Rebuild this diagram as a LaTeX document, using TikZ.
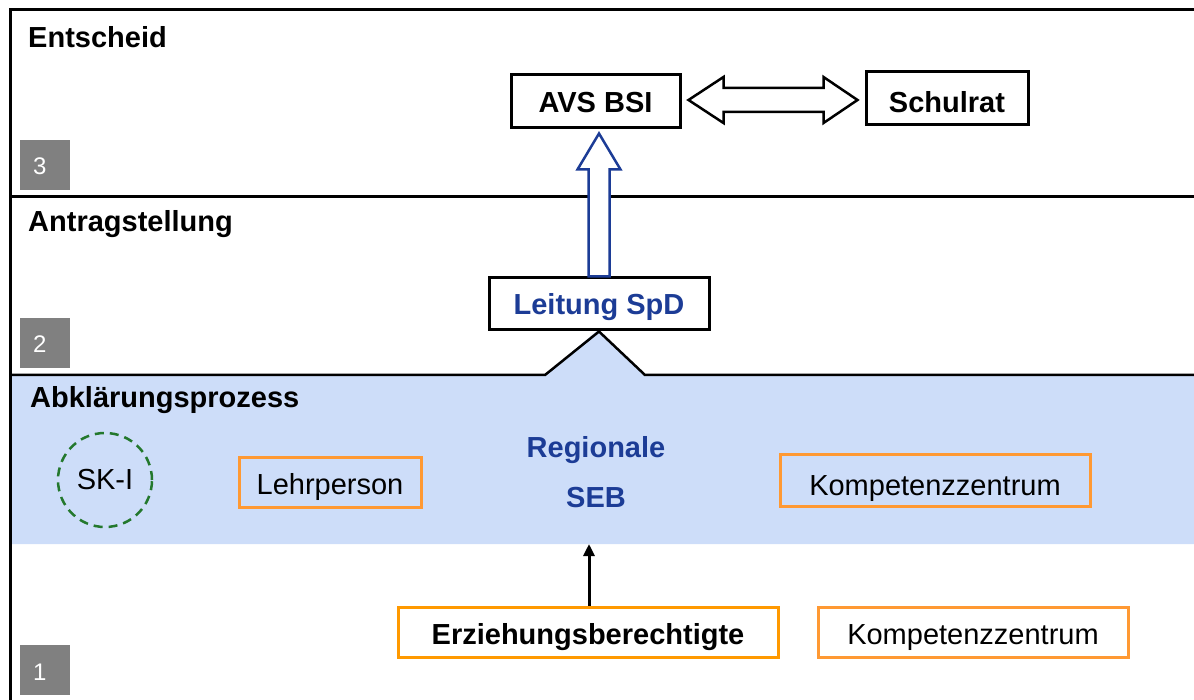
\documentclass[tikz,border=0pt]{standalone}
\usepackage{fontspec}
\setmainfont{Liberation Sans}
\usetikzlibrary{calc,arrows.meta}
\definecolor{orangeA}{RGB}{255,153,51}
\definecolor{orangeB}{RGB}{255,153,0}
\definecolor{bluefill}{RGB}{205,221,249}
\definecolor{bluetext}{RGB}{28,60,150}
\definecolor{darkgreen}{RGB}{35,120,45}
\definecolor{graybox}{RGB}{128,128,128}
\begin{document}
\begin{tikzpicture}[x=1pt,y=-1pt,
  lbl/.style={font=\fontsize{29}{34}\selectfont\bfseries, anchor=west, inner sep=0pt},
  bbox/.style={draw=black, line width=3pt, fill=white, inner sep=0pt},
  obox/.style={draw=orangeA, line width=3pt, inner sep=0pt, font=\fontsize{29}{34}\selectfont},
  numbox/.style={fill=graybox, text=white, minimum size=50pt, inner sep=0pt, text height=20pt, text depth=0pt, text width=24pt, font=\fontsize{24}{28}\selectfont},
  hollow/.style={draw=black, line width=2.5pt, fill=white, line join=miter},
  bluearrow/.style={draw=bluetext, line width=2.5pt, fill=white, line join=miter},
  frame/.style={draw=black, line width=3pt}
]
\useasboundingbox (0,0) rectangle (1194,700);
% blue area
\fill[bluefill] (10,375) -- (545,375) -- (598,330) -- (645,375) -- (1194,375) -- (1194,544) -- (10,544) -- cycle;
% frame
\draw[frame] (10,701) -- (10,10) -- (1195,10);
\draw[frame] (10,197) -- (1195,197);
% section labels
\node[lbl] (l3) at (28,37) {Entscheid};
\node[lbl] (l2) at (28,224) {Antragstellung};
\node[lbl] (l1) at (30,400) {Abklärungsprozess};
\node[numbox] (n3) at (45,165) {3};
\node[numbox] (n2) at (45,343) {2};
\node[numbox] (n1) at (45,670) {1};
% top boxes
\node[bbox, minimum width=169pt, minimum height=53pt, text height=23pt, text depth=0pt, font=\fontsize{29}{34}\selectfont\bfseries] (avs) at (595.5,101.5) {AVS BSI};
\node[bbox, minimum width=162pt, minimum height=53pt, text height=29pt, text depth=0pt, font=\fontsize{29}{34}\selectfont\bfseries] (schul) at (947,98.5) {Schulrat};
\node[bbox, minimum width=220pt, minimum height=52pt, text height=22pt, text depth=0pt, text=bluetext, font=\fontsize{29}{34}\selectfont\bfseries] (leit) at (599,304) {Leitung SpD};
% peak line
\draw[frame, line width=2.5pt, line join=miter] (10,375) -- (545,375) -- (leit.south) -- (645,375) -- (1195,375);
% double arrow
\coordinate (tipL) at ($(avs.east)+(7,-1.5)$);
\coordinate (tipR) at ($(schul.west)+(-7,1.5)$);
\draw[hollow] (tipL) -- ++(35,-23) -- ++(0,11) -- ($(tipR)+(-34,-12)$) -- ++(0,-11) -- (tipR)
  -- ++(-34,23) -- ++(0,-11) -- ($(tipL)+(35,12)$) -- ++(0,11) -- cycle;
% up arrow
\coordinate (uptip) at ($(leit.north |- avs.south)+(0,4)$);
\draw[bluearrow] (uptip) -- ++(21.5,36) -- ++(-11,0) -- ($(leit.north)+(10.5,0)$)
  -- ($(leit.north)+(-10.5,0)$) -- ($(uptip)+(-10.5,36)$) -- ++(-11,0) -- cycle;
% middle area
\node[draw=darkgreen, dashed, dash pattern=on 9pt off 6pt, line width=2.5pt, circle, minimum size=94pt, inner sep=0pt, font=\fontsize{29}{34}\selectfont] (sk) at (105,480) {SK-I};
\node[obox, minimum width=182pt, minimum height=50pt, text height=24pt, text depth=0pt] (lehr) at (330,482) {Lehrperson};
\node[text=bluetext, align=center, font=\fontsize{29}{50}\selectfont\bfseries, inner sep=0pt] (seb) at (596,472) {Regionale\\SEB};
\node[obox, minimum width=310pt, minimum height=52pt, text height=30pt, text depth=0pt] (komp1) at (935,480) {Kompetenzzentrum};
% bottom
\node[obox, draw=orangeB, minimum width=380pt, minimum height=50pt, text height=24pt, text depth=0pt, font=\fontsize{29}{34}\selectfont\bfseries] (erz) at (588,632) {Erziehungsberechtigte};
\node[obox, minimum width=310pt, minimum height=50pt, text height=24pt, text depth=0pt] (komp2) at (973,632) {Kompetenzzentrum};
\coordinate (sebbot) at (589,544);
\draw[line width=3pt, -{Triangle[length=12pt,width=11pt]}] (erz.north -| sebbot) -- (sebbot);
\end{tikzpicture}
\end{document}
